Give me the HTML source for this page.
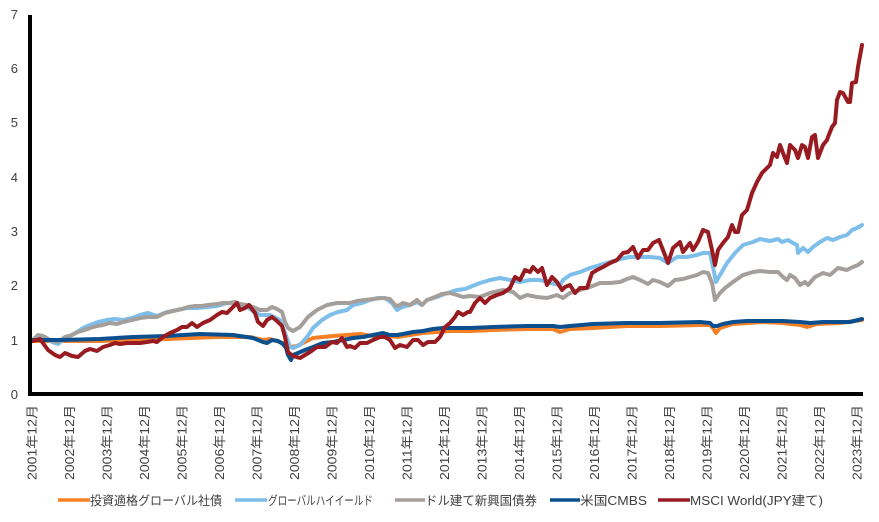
<!DOCTYPE html>
<html><head><meta charset="utf-8"><style>
html,body{margin:0;padding:0;background:#fff;}
svg{display:block;}
text{font-family:"Liberation Sans","Noto Sans CJK JP",sans-serif;fill:#404040;}
</style></head><body>
<svg width="879" height="522" viewBox="0 0 879 522" xmlns="http://www.w3.org/2000/svg">
<g font-size="13" text-anchor="end">
<text x="18" y="19">7</text>
<text x="18" y="73">6</text>
<text x="18" y="127">5</text>
<text x="18" y="182">4</text>
<text x="18" y="236">3</text>
<text x="18" y="290">2</text>
<text x="18" y="345">1</text>
<text x="18" y="399">0</text>
</g>
<g fill="none" stroke-width="4" stroke-linejoin="round" stroke-linecap="round">
<polyline stroke="#F58025" points="33,341 100,341 167,339 217,337 250,337 263,340 270,339 283,343 290,347 297,346 305,342 313,338 323,337 333,336 347,335 360,334 373,336 383,335 397,337 410,335 423,333 437,332 450,331 470,331 493,330 527,329 553,329 560,332 570,329 593,328 627,326 660,326 700,325 710,325 713,328 716,333 720,328 733,324 763,322 783,323 800,325 807,327 817,324 840,323 862,320"/>
<polyline stroke="#7DBEEB" points="33,340 38,336 45,337 52,342 58,344 63,340 70,336 77,332 83,328 90,325 98,322 107,320 115,319 123,320 132,318 140,315 148,313 157,316 167,312 177,310 187,308 197,308 207,307 217,306 227,303 237,303 247,307 253,311 260,315 270,315 280,320 285,333 290,347 293,348 300,345 307,337 313,328 322,320 330,315 338,312 347,310 353,305 362,303 370,300 378,298 385,298 392,303 397,310 402,307 410,305 417,302 422,305 427,300 437,297 447,293 457,290 465,289 470,287 480,283 490,280 500,278 510,280 520,282 530,280 540,280 550,283 560,285 563,280 570,275 580,272 590,268 600,265 610,262 620,259 630,257 640,257 650,257 660,258 668,263 677,257 687,257 697,255 703,253 710,253 713,267 716,282 720,275 727,263 735,253 743,245 753,242 760,239 770,241 778,239 782,242 788,240 793,243 797,245 798,253 803,248 808,252 813,247 820,242 827,238 833,240 840,237 847,235 852,230 857,228 862,225"/>
<polyline stroke="#A59F9B" points="33,340 38,335 43,336 50,340 58,342 65,337 72,335 78,332 85,330 90,328 97,326 103,325 110,323 117,324 123,322 132,320 140,318 148,317 157,317 165,313 173,311 182,309 188,307 195,306 202,306 208,305 217,304 223,303 230,303 235,302 240,304 247,305 253,307 260,310 267,310 272,307 277,309 282,312 285,322 288,328 293,331 300,327 308,317 317,310 327,305 337,303 343,303 350,303 357,301 365,300 373,299 382,298 390,299 395,305 398,306 403,303 410,305 417,300 422,305 427,300 435,297 442,294 450,293 457,295 463,297 470,296 480,297 490,293 503,290 513,292 520,298 527,295 537,297 547,298 557,295 563,298 570,293 580,290 590,287 600,283 610,283 620,282 627,279 633,277 640,280 648,284 653,280 660,282 668,286 675,280 683,279 690,277 697,275 703,272 708,273 712,283 715,300 720,293 725,288 733,282 743,275 753,272 760,271 770,272 778,272 783,277 787,280 790,275 795,278 800,285 805,282 808,285 815,277 823,273 830,275 838,268 847,270 853,267 858,265 862,262"/>
<polyline stroke="#0B4F8F" points="33,340 60,340 100,339 133,337 167,336 200,334 233,335 253,338 263,342 267,343 272,340 278,341 283,344 286,348 288,355 291,360 293,355 298,353 305,350 313,347 323,343 333,342 343,340 353,338 363,337 373,335 383,333 390,335 397,335 403,334 413,332 423,331 433,329 443,328 457,328 470,328 493,327 527,326 553,326 560,327 570,326 593,324 627,323 660,323 700,322 710,323 713,326 717,326 723,324 733,322 747,321 763,321 783,321 800,322 810,323 823,322 840,322 850,322 862,319"/>
<polyline stroke="#971B20" points="33,341 40,339 48,350 55,355 60,357 65,353 72,356 78,357 85,351 90,349 97,351 103,347 110,345 115,343 120,344 127,343 133,343 140,343 147,342 153,341 157,342 163,337 170,333 177,330 182,327 187,327 192,323 197,327 203,323 210,320 217,315 222,312 227,313 233,307 237,303 240,310 245,308 249,305 255,313 258,322 263,326 267,320 272,317 277,321 282,326 285,337 288,352 293,356 300,358 305,355 310,352 317,347 325,347 332,342 337,343 342,338 347,347 350,346 355,348 360,343 367,343 373,340 380,337 385,337 390,340 395,348 400,345 407,347 413,340 418,340 423,345 428,342 435,342 440,337 445,327 450,323 455,317 458,312 463,315 468,312 470,312 475,303 480,298 485,303 490,298 497,295 503,293 510,288 515,277 520,280 525,270 530,272 533,267 538,272 542,268 547,285 552,277 557,282 562,290 565,287 570,285 575,293 580,288 587,288 592,273 597,270 603,267 610,263 617,260 623,253 628,252 633,247 638,258 643,250 648,250 653,243 659,240 663,250 668,263 673,248 680,242 683,252 690,243 693,250 698,242 703,230 708,232 712,250 715,265 718,250 723,243 728,237 732,225 735,232 738,232 742,215 747,210 752,193 757,182 762,173 767,168 770,165 773,153 777,157 780,145 783,153 787,163 790,145 795,150 798,158 802,145 805,147 808,158 812,137 815,135 818,158 823,145 827,140 828,137 832,127 835,123 837,100 840,92 843,93 848,102 850,102 852,83 856,82 858,67 862,45"/>
</g>
<rect x="28" y="15" width="4" height="381" fill="#000"/>
<rect x="28" y="392" width="835" height="4" fill="#000"/>
<g font-size="12.5" text-anchor="end">
<text transform="translate(32,405) rotate(-90)" dy="0.36em" textLength="75" lengthAdjust="spacingAndGlyphs">2001年12月</text>
<text transform="translate(69.5,405) rotate(-90)" dy="0.36em" textLength="75" lengthAdjust="spacingAndGlyphs">2002年12月</text>
<text transform="translate(107,405) rotate(-90)" dy="0.36em" textLength="75" lengthAdjust="spacingAndGlyphs">2003年12月</text>
<text transform="translate(144.5,405) rotate(-90)" dy="0.36em" textLength="75" lengthAdjust="spacingAndGlyphs">2004年12月</text>
<text transform="translate(182,405) rotate(-90)" dy="0.36em" textLength="75" lengthAdjust="spacingAndGlyphs">2005年12月</text>
<text transform="translate(219.5,405) rotate(-90)" dy="0.36em" textLength="75" lengthAdjust="spacingAndGlyphs">2006年12月</text>
<text transform="translate(257,405) rotate(-90)" dy="0.36em" textLength="75" lengthAdjust="spacingAndGlyphs">2007年12月</text>
<text transform="translate(294.5,405) rotate(-90)" dy="0.36em" textLength="75" lengthAdjust="spacingAndGlyphs">2008年12月</text>
<text transform="translate(332,405) rotate(-90)" dy="0.36em" textLength="75" lengthAdjust="spacingAndGlyphs">2009年12月</text>
<text transform="translate(369.5,405) rotate(-90)" dy="0.36em" textLength="75" lengthAdjust="spacingAndGlyphs">2010年12月</text>
<text transform="translate(407,405) rotate(-90)" dy="0.36em" textLength="75" lengthAdjust="spacingAndGlyphs">2011年12月</text>
<text transform="translate(444.5,405) rotate(-90)" dy="0.36em" textLength="75" lengthAdjust="spacingAndGlyphs">2012年12月</text>
<text transform="translate(482,405) rotate(-90)" dy="0.36em" textLength="75" lengthAdjust="spacingAndGlyphs">2013年12月</text>
<text transform="translate(519.5,405) rotate(-90)" dy="0.36em" textLength="75" lengthAdjust="spacingAndGlyphs">2014年12月</text>
<text transform="translate(557,405) rotate(-90)" dy="0.36em" textLength="75" lengthAdjust="spacingAndGlyphs">2015年12月</text>
<text transform="translate(594.5,405) rotate(-90)" dy="0.36em" textLength="75" lengthAdjust="spacingAndGlyphs">2016年12月</text>
<text transform="translate(632,405) rotate(-90)" dy="0.36em" textLength="75" lengthAdjust="spacingAndGlyphs">2017年12月</text>
<text transform="translate(669.5,405) rotate(-90)" dy="0.36em" textLength="75" lengthAdjust="spacingAndGlyphs">2018年12月</text>
<text transform="translate(707,405) rotate(-90)" dy="0.36em" textLength="75" lengthAdjust="spacingAndGlyphs">2019年12月</text>
<text transform="translate(744.5,405) rotate(-90)" dy="0.36em" textLength="75" lengthAdjust="spacingAndGlyphs">2020年12月</text>
<text transform="translate(782,405) rotate(-90)" dy="0.36em" textLength="75" lengthAdjust="spacingAndGlyphs">2021年12月</text>
<text transform="translate(819.5,405) rotate(-90)" dy="0.36em" textLength="75" lengthAdjust="spacingAndGlyphs">2022年12月</text>
<text transform="translate(857,405) rotate(-90)" dy="0.36em" textLength="75" lengthAdjust="spacingAndGlyphs">2023年12月</text>
</g>
<g stroke-width="3.5" fill="none">
<line x1="58" y1="500" x2="90" y2="500" stroke="#F58025"/>
<line x1="235" y1="500" x2="267" y2="500" stroke="#7DBEEB"/>
<line x1="395" y1="500" x2="425" y2="500" stroke="#A59F9B"/>
<line x1="550" y1="500" x2="580" y2="500" stroke="#0B4F8F"/>
<line x1="658" y1="500" x2="690" y2="500" stroke="#971B20"/>
</g>
<g font-size="12.5">
<text x="90" y="505" textLength="132" lengthAdjust="spacingAndGlyphs">投資適格グローバル社債</text>
<text x="268" y="505" textLength="105" lengthAdjust="spacingAndGlyphs">グローバルハイイールド</text>
<text x="425" y="505" textLength="112" lengthAdjust="spacingAndGlyphs">ドル建て新興国債券</text>
<text x="580" y="505" textLength="67" lengthAdjust="spacingAndGlyphs">米国CMBS</text>
<text x="690" y="505" textLength="133" lengthAdjust="spacingAndGlyphs">MSCI World(JPY建て)</text>
</g>
</svg>
</body></html>
